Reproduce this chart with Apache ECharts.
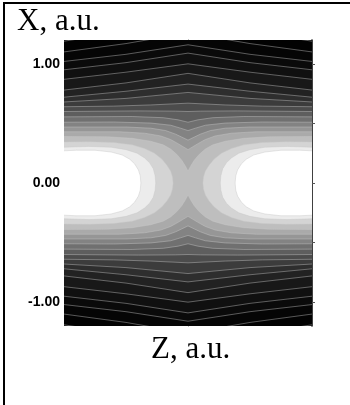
<!DOCTYPE html>
<html lang="en">
<head>
    <meta charset="UTF-8">
    <title>X-Z contour</title>
    <script type="text/javascript" src="https://cdn.jsdelivr.net/npm/echarts@6/dist/echarts.min.js"></script>
    <style>
        html, body { margin: 0; padding: 0; background: #fff; }
        #main { width: 350px; height: 405px; }
    </style>
</head>
<body>
<div id="main"></div>
<script type="text/javascript">
    // contour levels, lowest (darkest) first; each is the upper-right quarter [z, x],
    // the picture is mirror symmetric in z and in x
    var levelColors = ['#020202', '#050505', '#0a0a0a', '#101010', '#181818', '#222222', '#2e2e2e',
        '#3c3c3c', '#4c4c4c', '#5e5e5e', '#707070', '#838383', '#969696', '#aaaaaa', '#bebebe',
        '#d4d4d4', '#ececec', '#ffffff'];
    // true = closed lobe around the bright spot at the z edge
    var levelLobe = [false, false, false, false, false, false, false, false, false, false,
        false, false, false, false, false, true, true, true];
    var levelLines = [
        [[0, 1.36], [0.5, 1.27], [1, 1.19]],
        [[0, 1.26], [0.5, 1.17], [1, 1.10]],
        [[0, 1.16], [0.5, 1.08], [1, 1.02]],
        [[0, 1.09], [0.5, 1.01], [1, 0.95]],
        [[0, 1.00], [0.5, 0.93], [1, 0.87]],
        [[0, 0.92], [0.5, 0.84], [1, 0.78]],
        [[0, 0.83], [0.5, 0.77], [1, 0.72]],
        [[0, 0.76], [0.5, 0.71], [1, 0.68]],
        [[0, 0.67], [0.3, 0.655], [0.6, 0.645], [1, 0.64]],
        [[0, 0.60], [0.1, 0.603], [0.4, 0.605], [1, 0.60]],
        [[0, 0.51], [0.08, 0.53], [0.2, 0.548], [0.45, 0.558], [1, 0.555]],
        [[0, 0.44], [0.06, 0.46], [0.14, 0.485], [0.3, 0.503], [0.6, 0.512], [1, 0.51]],
        [[0, 0.36], [0.05, 0.385], [0.1, 0.41], [0.18, 0.44], [0.3, 0.46], [0.5, 0.47], [1, 0.47]],
        [[0, 0.28], [0.04, 0.305], [0.08, 0.33], [0.14, 0.365], [0.22, 0.395], [0.35, 0.418], [0.55, 0.43], [1, 0.43]],
        [[0, 0.10], [0.02, 0.14], [0.05, 0.19], [0.09, 0.24], [0.14, 0.285], [0.2, 0.32], [0.3, 0.35],
            [0.45, 0.375], [0.65, 0.388], [1, 0.39]],
        [[0.12, 0], [0.125, 0.05], [0.14, 0.10], [0.17, 0.15], [0.21, 0.20], [0.27, 0.25], [0.35, 0.29],
            [0.45, 0.32], [0.6, 0.34], [0.8, 0.347], [1, 0.345]],
        [[0.26, 0], [0.265, 0.06], [0.28, 0.12], [0.31, 0.17], [0.35, 0.21], [0.41, 0.25], [0.5, 0.28],
            [0.62, 0.30], [0.8, 0.307], [1, 0.30]],
        [[0.38, 0], [0.385, 0.06], [0.40, 0.11], [0.43, 0.16], [0.47, 0.20], [0.53, 0.235], [0.62, 0.26],
            [0.75, 0.275], [0.9, 0.275], [1, 0.27]]
    ];
    var leftTicks = [-1, 0, 1];
    var rightTicks = [-1, -0.5, 0, 0.5, 1];

    // full outline of one level, built from its quarter
    function outline(i) {
        var q = levelLines[i], pts = [], k;
        if (levelLobe[i]) {
            // right lobe: upper then lower, closed past the right edge
            for (k = 0; k < q.length; k++) pts.push([q[k][0], q[k][1]]);
            pts.push([1.1, q[q.length - 1][1]]);
            pts.push([1.1, -q[q.length - 1][1]]);
            for (k = q.length - 1; k >= 0; k--) pts.push([q[k][0], -q[k][1]]);
            return [pts, pts.map(function (p) { return [-p[0], p[1]]; })];
        }
        var up = [[-1.1, q[q.length - 1][1]]];
        for (k = q.length - 1; k >= 0; k--) up.push([-q[k][0], q[k][1]]);
        for (k = 1; k < q.length; k++) up.push([q[k][0], q[k][1]]);
        up.push([1.1, q[q.length - 1][1]]);
        var down = up.slice().reverse().map(function (p) { return [p[0], -p[1]]; });
        return [up.concat(down)];
    }

    function lineParts(i) {
        var q = levelLines[i], parts = [], k;
        if (levelLobe[i]) {
            var r = [];
            for (k = q.length - 1; k >= 0; k--) r.push([q[k][0], q[k][1]]);
            for (k = 1; k < q.length; k++) r.push([q[k][0], -q[k][1]]);
            parts.push(r, r.map(function (p) { return [-p[0], p[1]]; }));
            return parts;
        }
        var up = [];
        for (k = q.length - 1; k >= 0; k--) up.push([-q[k][0], q[k][1]]);
        for (k = 1; k < q.length; k++) up.push([q[k][0], q[k][1]]);
        parts.push(up, up.map(function (p) { return [p[0], -p[1]]; }));
        return parts;
    }

    var levelIndex = levelLines.map(function (d, i) { return [i]; });

    var myChart = echarts.init(document.getElementById('main'), null, {renderer: 'canvas'});

    var option = {
        backgroundColor: '#fff',
        animation: false,
        grid: {left: 64, top: 40, width: 248, height: 286, show: true, backgroundColor: '#000', borderWidth: 0},
        xAxis: {
            type: 'value', min: -1, max: 1,
            axisLine: {show: false}, axisTick: {show: false}, axisLabel: {show: false}, splitLine: {show: false}
        },
        yAxis: [
            {
                type: 'value', min: -1.2, max: 1.2, position: 'left',
                axisLine: {show: true, lineStyle: {color: '#666', width: 1}},
                axisTick: {show: true, length: 3, customValues: leftTicks, lineStyle: {color: '#333'}},
                axisLabel: {
                    customValues: leftTicks, margin: 4, color: '#000', fontSize: 14, fontWeight: 'bold',
                    fontFamily: 'Liberation Sans, Arial, sans-serif',
                    formatter: function (v) { return v.toFixed(2); }
                },
                splitLine: {show: false}
            },
            {
                type: 'value', min: -1.2, max: 1.2, position: 'right',
                axisLine: {show: true, lineStyle: {color: '#000', width: 1.5}},
                axisTick: {show: true, length: 3, customValues: rightTicks, lineStyle: {color: '#555'}},
                axisLabel: {show: false},
                splitLine: {show: false}
            }
        ],
        graphic: [
            {type: 'line', shape: {x1: 4, y1: 2, x2: 4, y2: 405}, style: {stroke: '#000', lineWidth: 2}},
            {type: 'line', shape: {x1: 3, y1: 3, x2: 350, y2: 3}, style: {stroke: '#000', lineWidth: 2}},
            {
                type: 'text', left: 17, top: 6,
                style: {text: 'X, a.u.', font: '31px "Liberation Serif", "Times New Roman", serif', fill: '#000'}
            },
            {
                type: 'text', left: 151, top: 334,
                style: {text: 'Z, a.u.', font: '31px "Liberation Serif", "Times New Roman", serif', fill: '#000'}
            }
        ],
        series: [
            {
                type: 'custom', name: 'fill', clip: true, z: 1,
                data: levelIndex,
                renderItem: function (params, api) {
                    var i = api.value(0);
                    return {
                        type: 'group',
                        children: outline(i).map(function (poly) {
                            return {
                                type: 'polygon',
                                shape: {points: poly.map(function (p) { return api.coord(p); })},
                                style: {fill: levelColors[i]}
                            };
                        })
                    };
                }
            },
            {
                type: 'custom', name: 'lines', clip: true, z: 2,
                data: levelIndex,
                renderItem: function (params, api) {
                    var i = api.value(0);
                    return {
                        type: 'group',
                        children: lineParts(i).map(function (pl) {
                            return {
                                type: 'polyline',
                                shape: {points: pl.map(function (p) { return api.coord(p); })},
                                style: {stroke: 'rgba(200,200,200,0.55)', lineWidth: 0.8, fill: null}
                            };
                        })
                    };
                }
            }
        ]
    };

    myChart.setOption(option);
</script>
</body>
</html>
